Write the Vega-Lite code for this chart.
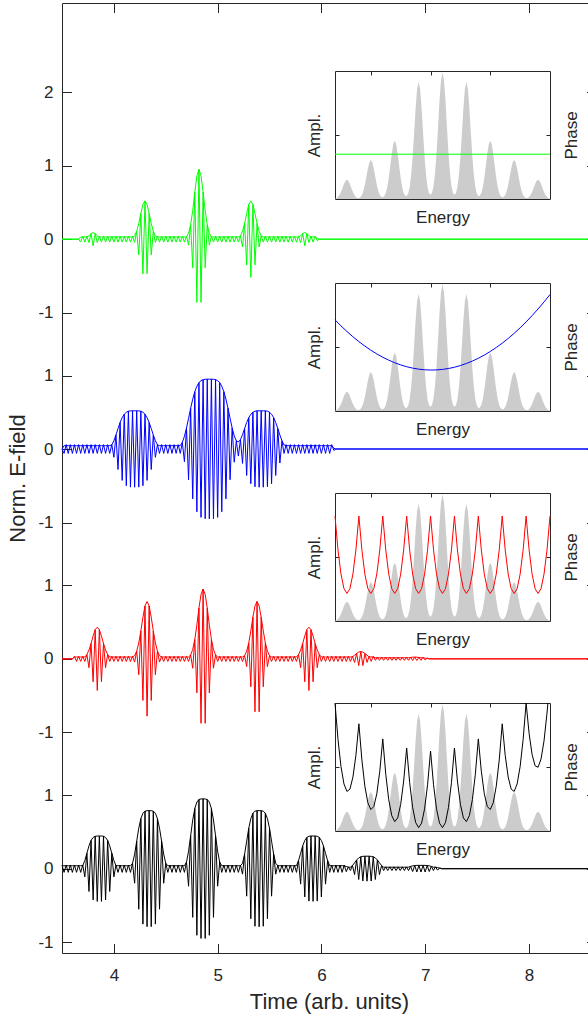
{
"$schema": "https://vega.github.io/schema/vega-lite/v6.json",
"width": 534, "height": 950,
"autosize": {"type": "none"},
"padding": {"left": 62, "top": 3, "right": -8, "bottom": 63},
"background": "white",
"config": {
 "view": {"stroke": null},
 "axis": {"grid": false, "domainColor": "#262626", "tickColor": "#262626", "labelColor": "#262626", "titleColor": "#262626", "labelFont": "Liberation Sans", "titleFont": "Liberation Sans", "titleFontWeight": "normal", "domainWidth": 1, "tickWidth": 1, "labelFontSize": 17, "titleFontSize": 22}
},
"datasets": {
"green": [{"t":3.5,"f":0,"e":0},{"t":3.66,"f":0,"e":0},{"t":3.68,"f":-0.04,"e":0.03},{"t":3.7,"f":0.04,"e":0.03},{"t":3.72,"f":-0.04,"e":0.03},{"t":3.74,"f":0.04,"e":0.03},{"t":3.76,"f":-0.047,"e":0.047},{"t":3.78,"f":0.076,"e":0.076},{"t":3.8,"f":-0.09,"e":0.09},{"t":3.82,"f":0.076,"e":0.076},{"t":3.84,"f":-0.047,"e":0.047},{"t":3.86,"f":0.04,"e":0.03},{"t":3.88,"f":-0.04,"e":0.03},{"t":3.9,"f":0.04,"e":0.03},{"t":3.92,"f":-0.04,"e":0.03},{"t":3.94,"f":0.04,"e":0.03},{"t":3.96,"f":-0.04,"e":0.03},{"t":3.98,"f":0.04,"e":0.03},{"t":4.0,"f":-0.04,"e":0.03},{"t":4.02,"f":0.04,"e":0.03},{"t":4.04,"f":-0.04,"e":0.03},{"t":4.06,"f":0.04,"e":0.03},{"t":4.08,"f":-0.04,"e":0.03},{"t":4.1,"f":0.04,"e":0.03},{"t":4.12,"f":-0.04,"e":0.03},{"t":4.14,"f":0.04,"e":0.03},{"t":4.16,"f":-0.04,"e":0.03},{"t":4.18,"f":0.04,"e":0.03},{"t":4.2,"f":-0.044,"e":0.044},{"t":4.22,"f":0.107,"e":0.107},{"t":4.24,"f":-0.214,"e":0.214},{"t":4.26,"f":0.35,"e":0.35},{"t":4.28,"f":-0.471,"e":0.471},{"t":4.3,"f":0.52,"e":0.52},{"t":4.32,"f":-0.471,"e":0.471},{"t":4.34,"f":0.35,"e":0.35},{"t":4.36,"f":-0.214,"e":0.214},{"t":4.38,"f":0.107,"e":0.107},{"t":4.4,"f":-0.044,"e":0.044},{"t":4.42,"f":0.04,"e":0.03},{"t":4.44,"f":-0.04,"e":0.03},{"t":4.46,"f":0.04,"e":0.03},{"t":4.48,"f":-0.04,"e":0.03},{"t":4.5,"f":0.04,"e":0.03},{"t":4.52,"f":-0.04,"e":0.03},{"t":4.54,"f":0.04,"e":0.03},{"t":4.56,"f":-0.04,"e":0.03},{"t":4.58,"f":0.04,"e":0.03},{"t":4.6,"f":-0.04,"e":0.03},{"t":4.62,"f":0.04,"e":0.03},{"t":4.64,"f":-0.04,"e":0.03},{"t":4.66,"f":0.04,"e":0.03},{"t":4.68,"f":-0.04,"e":0.03},{"t":4.7,"f":0.04,"e":0.03},{"t":4.72,"f":-0.081,"e":0.081},{"t":4.74,"f":0.196,"e":0.196},{"t":4.76,"f":-0.39,"e":0.39},{"t":4.78,"f":0.64,"e":0.64},{"t":4.8,"f":-0.861,"e":0.861},{"t":4.82,"f":0.95,"e":0.95},{"t":4.84,"f":-0.861,"e":0.861},{"t":4.86,"f":0.64,"e":0.64},{"t":4.88,"f":-0.39,"e":0.39},{"t":4.9,"f":0.196,"e":0.196},{"t":4.92,"f":-0.081,"e":0.081},{"t":4.94,"f":0.04,"e":0.03},{"t":4.96,"f":-0.04,"e":0.03},{"t":4.98,"f":0.04,"e":0.03},{"t":5.0,"f":-0.04,"e":0.03},{"t":5.02,"f":0.04,"e":0.03},{"t":5.04,"f":-0.04,"e":0.03},{"t":5.06,"f":0.04,"e":0.03},{"t":5.08,"f":-0.04,"e":0.03},{"t":5.1,"f":0.04,"e":0.03},{"t":5.12,"f":-0.04,"e":0.03},{"t":5.14,"f":0.04,"e":0.03},{"t":5.16,"f":-0.04,"e":0.03},{"t":5.18,"f":0.04,"e":0.03},{"t":5.2,"f":-0.04,"e":0.03},{"t":5.22,"f":0.044,"e":0.044},{"t":5.24,"f":-0.107,"e":0.107},{"t":5.26,"f":0.214,"e":0.214},{"t":5.28,"f":-0.35,"e":0.35},{"t":5.3,"f":0.471,"e":0.471},{"t":5.32,"f":-0.52,"e":0.52},{"t":5.34,"f":0.471,"e":0.471},{"t":5.36,"f":-0.35,"e":0.35},{"t":5.38,"f":0.214,"e":0.214},{"t":5.4,"f":-0.107,"e":0.107},{"t":5.42,"f":0.044,"e":0.044},{"t":5.44,"f":-0.04,"e":0.03},{"t":5.46,"f":0.04,"e":0.03},{"t":5.48,"f":-0.04,"e":0.03},{"t":5.5,"f":0.04,"e":0.03},{"t":5.52,"f":-0.04,"e":0.03},{"t":5.54,"f":0.04,"e":0.03},{"t":5.56,"f":-0.04,"e":0.03},{"t":5.58,"f":0.04,"e":0.03},{"t":5.6,"f":-0.04,"e":0.03},{"t":5.62,"f":0.04,"e":0.03},{"t":5.64,"f":-0.04,"e":0.03},{"t":5.66,"f":0.04,"e":0.03},{"t":5.68,"f":-0.04,"e":0.03},{"t":5.7,"f":0.04,"e":0.03},{"t":5.72,"f":-0.04,"e":0.03},{"t":5.74,"f":0.04,"e":0.03},{"t":5.76,"f":-0.04,"e":0.03},{"t":5.78,"f":0.04,"e":0.03},{"t":5.8,"f":-0.047,"e":0.047},{"t":5.82,"f":0.076,"e":0.076},{"t":5.84,"f":-0.09,"e":0.09},{"t":5.86,"f":0.076,"e":0.076},{"t":5.88,"f":-0.047,"e":0.047},{"t":5.9,"f":0.04,"e":0.03},{"t":5.92,"f":-0.04,"e":0.03},{"t":5.94,"f":0.04,"e":0.03},{"t":5.96,"f":-0.02,"e":0.01},{"t":5.98,"f":0,"e":0},{"t":8.647,"f":0,"e":0}],
"blue": [{"t":3.5,"f":0,"e":0},{"t":3.52,"f":-0.06,"e":0.045},{"t":3.54,"f":0.06,"e":0.045},{"t":3.56,"f":-0.06,"e":0.045},{"t":3.58,"f":0.06,"e":0.045},{"t":3.6,"f":-0.06,"e":0.045},{"t":3.62,"f":0.06,"e":0.045},{"t":3.64,"f":-0.06,"e":0.045},{"t":3.66,"f":0.06,"e":0.045},{"t":3.68,"f":-0.06,"e":0.045},{"t":3.7,"f":0.06,"e":0.045},{"t":3.72,"f":-0.06,"e":0.045},{"t":3.74,"f":0.06,"e":0.045},{"t":3.76,"f":-0.06,"e":0.045},{"t":3.78,"f":0.06,"e":0.045},{"t":3.8,"f":-0.06,"e":0.045},{"t":3.82,"f":0.06,"e":0.045},{"t":3.84,"f":-0.06,"e":0.045},{"t":3.86,"f":0.06,"e":0.045},{"t":3.88,"f":-0.06,"e":0.045},{"t":3.9,"f":0.06,"e":0.045},{"t":3.92,"f":-0.06,"e":0.045},{"t":3.94,"f":0.06,"e":0.045},{"t":3.96,"f":-0.06,"e":0.045},{"t":3.98,"f":0.06,"e":0.056},{"t":4.0,"f":-0.113,"e":0.113},{"t":4.02,"f":0.191,"e":0.191},{"t":4.04,"f":-0.279,"e":0.279},{"t":4.06,"f":0.36,"e":0.36},{"t":4.08,"f":-0.427,"e":0.427},{"t":4.1,"f":0.473,"e":0.473},{"t":4.12,"f":-0.5,"e":0.5},{"t":4.14,"f":0.514,"e":0.514},{"t":4.16,"f":-0.519,"e":0.519},{"t":4.18,"f":0.52,"e":0.52},{"t":4.2,"f":-0.52,"e":0.52},{"t":4.22,"f":0.52,"e":0.52},{"t":4.24,"f":-0.519,"e":0.519},{"t":4.26,"f":0.514,"e":0.514},{"t":4.28,"f":-0.5,"e":0.5},{"t":4.3,"f":0.473,"e":0.473},{"t":4.32,"f":-0.427,"e":0.427},{"t":4.34,"f":0.36,"e":0.36},{"t":4.36,"f":-0.279,"e":0.279},{"t":4.38,"f":0.191,"e":0.191},{"t":4.4,"f":-0.113,"e":0.113},{"t":4.42,"f":0.06,"e":0.056},{"t":4.44,"f":-0.06,"e":0.045},{"t":4.46,"f":0.06,"e":0.045},{"t":4.48,"f":-0.06,"e":0.045},{"t":4.5,"f":0.06,"e":0.045},{"t":4.52,"f":-0.06,"e":0.045},{"t":4.54,"f":0.06,"e":0.045},{"t":4.56,"f":-0.06,"e":0.045},{"t":4.58,"f":0.06,"e":0.045},{"t":4.6,"f":-0.06,"e":0.045},{"t":4.62,"f":0.06,"e":0.045},{"t":4.64,"f":-0.06,"e":0.045},{"t":4.66,"f":0.09,"e":0.09},{"t":4.68,"f":-0.173,"e":0.173},{"t":4.7,"f":0.285,"e":0.285},{"t":4.72,"f":-0.418,"e":0.418},{"t":4.74,"f":0.554,"e":0.554},{"t":4.76,"f":-0.678,"e":0.678},{"t":4.78,"f":0.78,"e":0.78},{"t":4.8,"f":-0.854,"e":0.854},{"t":4.82,"f":0.903,"e":0.903},{"t":4.84,"f":-0.93,"e":0.93},{"t":4.86,"f":0.943,"e":0.943},{"t":4.88,"f":-0.949,"e":0.949},{"t":4.9,"f":0.95,"e":0.95},{"t":4.92,"f":-0.95,"e":0.95},{"t":4.94,"f":0.95,"e":0.95},{"t":4.96,"f":-0.949,"e":0.949},{"t":4.98,"f":0.943,"e":0.943},{"t":5.0,"f":-0.93,"e":0.93},{"t":5.02,"f":0.903,"e":0.903},{"t":5.04,"f":-0.854,"e":0.854},{"t":5.06,"f":0.78,"e":0.78},{"t":5.08,"f":-0.678,"e":0.678},{"t":5.1,"f":0.554,"e":0.554},{"t":5.12,"f":-0.418,"e":0.418},{"t":5.14,"f":0.287,"e":0.287},{"t":5.16,"f":-0.18,"e":0.18},{"t":5.18,"f":0.112,"e":0.112},{"t":5.2,"f":-0.096,"e":0.096},{"t":5.22,"f":0.128,"e":0.128},{"t":5.24,"f":-0.196,"e":0.196},{"t":5.26,"f":0.279,"e":0.279},{"t":5.28,"f":-0.36,"e":0.36},{"t":5.3,"f":0.427,"e":0.427},{"t":5.32,"f":-0.473,"e":0.473},{"t":5.34,"f":0.5,"e":0.5},{"t":5.36,"f":-0.514,"e":0.514},{"t":5.38,"f":0.519,"e":0.519},{"t":5.4,"f":-0.52,"e":0.52},{"t":5.42,"f":0.52,"e":0.52},{"t":5.44,"f":-0.52,"e":0.52},{"t":5.46,"f":0.519,"e":0.519},{"t":5.48,"f":-0.514,"e":0.514},{"t":5.5,"f":0.5,"e":0.5},{"t":5.52,"f":-0.473,"e":0.473},{"t":5.54,"f":0.427,"e":0.427},{"t":5.56,"f":-0.36,"e":0.36},{"t":5.58,"f":0.279,"e":0.279},{"t":5.6,"f":-0.191,"e":0.191},{"t":5.62,"f":0.113,"e":0.113},{"t":5.64,"f":-0.06,"e":0.056},{"t":5.66,"f":0.06,"e":0.045},{"t":5.68,"f":-0.06,"e":0.045},{"t":5.7,"f":0.06,"e":0.045},{"t":5.72,"f":-0.06,"e":0.045},{"t":5.74,"f":0.06,"e":0.045},{"t":5.76,"f":-0.06,"e":0.045},{"t":5.78,"f":0.06,"e":0.045},{"t":5.8,"f":-0.06,"e":0.045},{"t":5.82,"f":0.06,"e":0.045},{"t":5.84,"f":-0.06,"e":0.045},{"t":5.86,"f":0.06,"e":0.045},{"t":5.88,"f":-0.06,"e":0.045},{"t":5.9,"f":0.06,"e":0.045},{"t":5.92,"f":-0.06,"e":0.045},{"t":5.94,"f":0.06,"e":0.045},{"t":5.96,"f":-0.06,"e":0.045},{"t":5.98,"f":0.06,"e":0.045},{"t":6.0,"f":-0.06,"e":0.045},{"t":6.02,"f":0.06,"e":0.045},{"t":6.04,"f":-0.06,"e":0.045},{"t":6.06,"f":0.06,"e":0.045},{"t":6.08,"f":-0.06,"e":0.045},{"t":6.1,"f":0.06,"e":0.045},{"t":6.12,"f":-0.02,"e":0.01},{"t":6.14,"f":0,"e":0},{"t":8.647,"f":0,"e":0}],
"red": [{"t":3.5,"f":0,"e":0},{"t":3.6,"f":0,"e":0},{"t":3.62,"f":0.035,"e":0.025},{"t":3.64,"f":-0.035,"e":0.025},{"t":3.66,"f":0.035,"e":0.025},{"t":3.68,"f":-0.035,"e":0.025},{"t":3.7,"f":0.035,"e":0.025},{"t":3.72,"f":-0.035,"e":0.025},{"t":3.74,"f":0.058,"e":0.058},{"t":3.76,"f":-0.12,"e":0.12},{"t":3.78,"f":0.209,"e":0.209},{"t":3.8,"f":-0.312,"e":0.312},{"t":3.82,"f":0.397,"e":0.397},{"t":3.84,"f":-0.43,"e":0.43},{"t":3.86,"f":0.397,"e":0.397},{"t":3.88,"f":-0.312,"e":0.312},{"t":3.9,"f":0.209,"e":0.209},{"t":3.92,"f":-0.12,"e":0.12},{"t":3.94,"f":0.058,"e":0.058},{"t":3.96,"f":-0.035,"e":0.025},{"t":3.98,"f":0.035,"e":0.025},{"t":4.0,"f":-0.035,"e":0.025},{"t":4.02,"f":0.035,"e":0.025},{"t":4.04,"f":-0.035,"e":0.025},{"t":4.06,"f":0.035,"e":0.025},{"t":4.08,"f":-0.035,"e":0.025},{"t":4.1,"f":0.035,"e":0.025},{"t":4.12,"f":-0.035,"e":0.025},{"t":4.14,"f":0.035,"e":0.025},{"t":4.16,"f":-0.035,"e":0.025},{"t":4.18,"f":0.035,"e":0.025},{"t":4.2,"f":-0.044,"e":0.044},{"t":4.22,"f":0.105,"e":0.105},{"t":4.24,"f":-0.217,"e":0.217},{"t":4.26,"f":0.38,"e":0.38},{"t":4.28,"f":-0.566,"e":0.566},{"t":4.3,"f":0.72,"e":0.72},{"t":4.32,"f":-0.78,"e":0.78},{"t":4.34,"f":0.72,"e":0.72},{"t":4.36,"f":-0.566,"e":0.566},{"t":4.38,"f":0.38,"e":0.38},{"t":4.4,"f":-0.217,"e":0.217},{"t":4.42,"f":0.105,"e":0.105},{"t":4.44,"f":-0.044,"e":0.044},{"t":4.46,"f":0.035,"e":0.025},{"t":4.48,"f":-0.035,"e":0.025},{"t":4.5,"f":0.035,"e":0.025},{"t":4.52,"f":-0.035,"e":0.025},{"t":4.54,"f":0.035,"e":0.025},{"t":4.56,"f":-0.035,"e":0.025},{"t":4.58,"f":0.035,"e":0.025},{"t":4.6,"f":-0.035,"e":0.025},{"t":4.62,"f":0.035,"e":0.025},{"t":4.64,"f":-0.035,"e":0.025},{"t":4.66,"f":0.035,"e":0.025},{"t":4.68,"f":-0.035,"e":0.025},{"t":4.7,"f":0.035,"e":0.025},{"t":4.72,"f":-0.035,"e":0.025},{"t":4.74,"f":0.053,"e":0.053},{"t":4.76,"f":-0.128,"e":0.128},{"t":4.78,"f":0.264,"e":0.264},{"t":4.8,"f":-0.463,"e":0.463},{"t":4.82,"f":0.69,"e":0.69},{"t":4.84,"f":-0.877,"e":0.877},{"t":4.86,"f":0.95,"e":0.95},{"t":4.88,"f":-0.877,"e":0.877},{"t":4.9,"f":0.69,"e":0.69},{"t":4.92,"f":-0.463,"e":0.463},{"t":4.94,"f":0.264,"e":0.264},{"t":4.96,"f":-0.128,"e":0.128},{"t":4.98,"f":0.053,"e":0.053},{"t":5.0,"f":-0.035,"e":0.025},{"t":5.02,"f":0.035,"e":0.025},{"t":5.04,"f":-0.035,"e":0.025},{"t":5.06,"f":0.035,"e":0.025},{"t":5.08,"f":-0.035,"e":0.025},{"t":5.1,"f":0.035,"e":0.025},{"t":5.12,"f":-0.035,"e":0.025},{"t":5.14,"f":0.035,"e":0.025},{"t":5.16,"f":-0.035,"e":0.025},{"t":5.18,"f":0.035,"e":0.025},{"t":5.2,"f":-0.035,"e":0.025},{"t":5.22,"f":0.035,"e":0.025},{"t":5.24,"f":-0.035,"e":0.025},{"t":5.26,"f":0.044,"e":0.044},{"t":5.28,"f":-0.105,"e":0.105},{"t":5.3,"f":0.217,"e":0.217},{"t":5.32,"f":-0.38,"e":0.38},{"t":5.34,"f":0.566,"e":0.566},{"t":5.36,"f":-0.72,"e":0.72},{"t":5.38,"f":0.78,"e":0.78},{"t":5.4,"f":-0.72,"e":0.72},{"t":5.42,"f":0.566,"e":0.566},{"t":5.44,"f":-0.38,"e":0.38},{"t":5.46,"f":0.217,"e":0.217},{"t":5.48,"f":-0.105,"e":0.105},{"t":5.5,"f":0.044,"e":0.044},{"t":5.52,"f":-0.035,"e":0.025},{"t":5.54,"f":0.035,"e":0.025},{"t":5.56,"f":-0.035,"e":0.025},{"t":5.58,"f":0.035,"e":0.025},{"t":5.6,"f":-0.035,"e":0.025},{"t":5.62,"f":0.035,"e":0.025},{"t":5.64,"f":-0.035,"e":0.025},{"t":5.66,"f":0.035,"e":0.025},{"t":5.68,"f":-0.035,"e":0.025},{"t":5.7,"f":0.035,"e":0.025},{"t":5.72,"f":-0.035,"e":0.025},{"t":5.74,"f":0.035,"e":0.025},{"t":5.76,"f":-0.035,"e":0.025},{"t":5.78,"f":0.058,"e":0.058},{"t":5.8,"f":-0.12,"e":0.12},{"t":5.82,"f":0.209,"e":0.209},{"t":5.84,"f":-0.312,"e":0.312},{"t":5.86,"f":0.397,"e":0.397},{"t":5.88,"f":-0.43,"e":0.43},{"t":5.9,"f":0.397,"e":0.397},{"t":5.92,"f":-0.312,"e":0.312},{"t":5.94,"f":0.209,"e":0.209},{"t":5.96,"f":-0.12,"e":0.12},{"t":5.98,"f":0.058,"e":0.058},{"t":6.0,"f":-0.035,"e":0.025},{"t":6.02,"f":0.035,"e":0.025},{"t":6.04,"f":-0.035,"e":0.025},{"t":6.06,"f":0.035,"e":0.025},{"t":6.08,"f":-0.035,"e":0.025},{"t":6.1,"f":0.035,"e":0.025},{"t":6.12,"f":-0.035,"e":0.025},{"t":6.14,"f":0.035,"e":0.025},{"t":6.16,"f":-0.035,"e":0.025},{"t":6.18,"f":0.035,"e":0.025},{"t":6.2,"f":-0.035,"e":0.025},{"t":6.22,"f":0.035,"e":0.025},{"t":6.24,"f":-0.035,"e":0.025},{"t":6.26,"f":0.035,"e":0.025},{"t":6.28,"f":-0.035,"e":0.025},{"t":6.3,"f":0.035,"e":0.028},{"t":6.32,"f":-0.049,"e":0.049},{"t":6.34,"f":0.073,"e":0.073},{"t":6.36,"f":-0.092,"e":0.092},{"t":6.38,"f":0.1,"e":0.1},{"t":6.4,"f":-0.092,"e":0.092},{"t":6.42,"f":0.073,"e":0.073},{"t":6.44,"f":-0.049,"e":0.049},{"t":6.46,"f":0.035,"e":0.028},{"t":6.48,"f":-0.035,"e":0.025},{"t":6.5,"f":0.035,"e":0.025},{"t":6.52,"f":-0.02,"e":0.015},{"t":6.54,"f":0.02,"e":0.015},{"t":6.56,"f":-0.02,"e":0.015},{"t":6.58,"f":0.02,"e":0.015},{"t":6.6,"f":-0.02,"e":0.015},{"t":6.62,"f":0.02,"e":0.015},{"t":6.64,"f":-0.02,"e":0.015},{"t":6.66,"f":0.02,"e":0.015},{"t":6.68,"f":-0.02,"e":0.015},{"t":6.7,"f":0.02,"e":0.015},{"t":6.72,"f":-0.02,"e":0.015},{"t":6.74,"f":0.02,"e":0.015},{"t":6.76,"f":-0.02,"e":0.015},{"t":6.78,"f":0.02,"e":0.015},{"t":6.8,"f":-0.02,"e":0.015},{"t":6.82,"f":0.02,"e":0.015},{"t":6.84,"f":-0.02,"e":0.015},{"t":6.86,"f":0.02,"e":0.018},{"t":6.88,"f":-0.023,"e":0.023},{"t":6.9,"f":0.025,"e":0.025},{"t":6.92,"f":-0.023,"e":0.023},{"t":6.94,"f":0.02,"e":0.018},{"t":6.96,"f":-0.02,"e":0.015},{"t":6.98,"f":0.02,"e":0.015},{"t":7.0,"f":-0.015,"e":0.01},{"t":7.02,"f":0.01,"e":0.005},{"t":7.04,"f":0,"e":0},{"t":8.647,"f":0,"e":0}],
"black": [{"t":3.5,"f":0.05,"e":0.04},{"t":3.52,"f":-0.05,"e":0.04},{"t":3.54,"f":0.05,"e":0.04},{"t":3.56,"f":-0.05,"e":0.04},{"t":3.58,"f":0.05,"e":0.04},{"t":3.6,"f":-0.05,"e":0.04},{"t":3.62,"f":0.05,"e":0.04},{"t":3.64,"f":-0.05,"e":0.04},{"t":3.66,"f":0.05,"e":0.04},{"t":3.68,"f":-0.05,"e":0.04},{"t":3.7,"f":0.05,"e":0.042},{"t":3.72,"f":-0.111,"e":0.111},{"t":3.74,"f":0.21,"e":0.21},{"t":3.76,"f":-0.31,"e":0.31},{"t":3.78,"f":0.384,"e":0.384},{"t":3.8,"f":-0.425,"e":0.425},{"t":3.82,"f":0.441,"e":0.441},{"t":3.84,"f":-0.445,"e":0.445},{"t":3.86,"f":0.445,"e":0.445},{"t":3.88,"f":-0.445,"e":0.445},{"t":3.9,"f":0.441,"e":0.441},{"t":3.92,"f":-0.425,"e":0.425},{"t":3.94,"f":0.384,"e":0.384},{"t":3.96,"f":-0.31,"e":0.31},{"t":3.98,"f":0.21,"e":0.21},{"t":4.0,"f":-0.111,"e":0.111},{"t":4.02,"f":0.05,"e":0.042},{"t":4.04,"f":-0.05,"e":0.04},{"t":4.06,"f":0.05,"e":0.04},{"t":4.08,"f":-0.05,"e":0.04},{"t":4.1,"f":0.05,"e":0.04},{"t":4.12,"f":-0.05,"e":0.04},{"t":4.14,"f":0.05,"e":0.04},{"t":4.16,"f":-0.05,"e":0.04},{"t":4.18,"f":0.074,"e":0.074},{"t":4.2,"f":-0.198,"e":0.198},{"t":4.22,"f":0.374,"e":0.374},{"t":4.24,"f":-0.551,"e":0.551},{"t":4.26,"f":0.681,"e":0.681},{"t":4.28,"f":-0.754,"e":0.754},{"t":4.3,"f":0.783,"e":0.783},{"t":4.32,"f":-0.789,"e":0.789},{"t":4.34,"f":0.79,"e":0.79},{"t":4.36,"f":-0.789,"e":0.789},{"t":4.38,"f":0.783,"e":0.783},{"t":4.4,"f":-0.754,"e":0.754},{"t":4.42,"f":0.681,"e":0.681},{"t":4.44,"f":-0.551,"e":0.551},{"t":4.46,"f":0.374,"e":0.374},{"t":4.48,"f":-0.198,"e":0.198},{"t":4.5,"f":0.074,"e":0.074},{"t":4.52,"f":-0.05,"e":0.04},{"t":4.54,"f":0.05,"e":0.04},{"t":4.56,"f":-0.05,"e":0.04},{"t":4.58,"f":0.05,"e":0.04},{"t":4.6,"f":-0.05,"e":0.04},{"t":4.62,"f":0.05,"e":0.04},{"t":4.64,"f":-0.05,"e":0.04},{"t":4.66,"f":0.05,"e":0.04},{"t":4.68,"f":-0.05,"e":0.04},{"t":4.7,"f":0.089,"e":0.089},{"t":4.72,"f":-0.238,"e":0.238},{"t":4.74,"f":0.449,"e":0.449},{"t":4.76,"f":-0.662,"e":0.662},{"t":4.78,"f":0.819,"e":0.819},{"t":4.8,"f":-0.906,"e":0.906},{"t":4.82,"f":0.941,"e":0.941},{"t":4.84,"f":-0.949,"e":0.949},{"t":4.86,"f":0.95,"e":0.95},{"t":4.88,"f":-0.949,"e":0.949},{"t":4.9,"f":0.941,"e":0.941},{"t":4.92,"f":-0.906,"e":0.906},{"t":4.94,"f":0.819,"e":0.819},{"t":4.96,"f":-0.662,"e":0.662},{"t":4.98,"f":0.449,"e":0.449},{"t":5.0,"f":-0.238,"e":0.238},{"t":5.02,"f":0.089,"e":0.089},{"t":5.04,"f":-0.05,"e":0.04},{"t":5.06,"f":0.05,"e":0.04},{"t":5.08,"f":-0.05,"e":0.04},{"t":5.1,"f":0.05,"e":0.04},{"t":5.12,"f":-0.05,"e":0.04},{"t":5.14,"f":0.05,"e":0.04},{"t":5.16,"f":-0.05,"e":0.04},{"t":5.18,"f":0.05,"e":0.04},{"t":5.2,"f":-0.05,"e":0.04},{"t":5.22,"f":0.05,"e":0.04},{"t":5.24,"f":-0.074,"e":0.074},{"t":5.26,"f":0.198,"e":0.198},{"t":5.28,"f":-0.374,"e":0.374},{"t":5.3,"f":0.551,"e":0.551},{"t":5.32,"f":-0.681,"e":0.681},{"t":5.34,"f":0.754,"e":0.754},{"t":5.36,"f":-0.783,"e":0.783},{"t":5.38,"f":0.789,"e":0.789},{"t":5.4,"f":-0.79,"e":0.79},{"t":5.42,"f":0.789,"e":0.789},{"t":5.44,"f":-0.783,"e":0.783},{"t":5.46,"f":0.754,"e":0.754},{"t":5.48,"f":-0.681,"e":0.681},{"t":5.5,"f":0.551,"e":0.551},{"t":5.52,"f":-0.374,"e":0.374},{"t":5.54,"f":0.198,"e":0.198},{"t":5.56,"f":-0.074,"e":0.074},{"t":5.58,"f":0.05,"e":0.04},{"t":5.6,"f":-0.05,"e":0.04},{"t":5.62,"f":0.05,"e":0.04},{"t":5.64,"f":-0.05,"e":0.04},{"t":5.66,"f":0.05,"e":0.04},{"t":5.68,"f":-0.05,"e":0.04},{"t":5.7,"f":0.05,"e":0.04},{"t":5.72,"f":-0.05,"e":0.04},{"t":5.74,"f":0.05,"e":0.04},{"t":5.76,"f":-0.05,"e":0.042},{"t":5.78,"f":0.111,"e":0.111},{"t":5.8,"f":-0.21,"e":0.21},{"t":5.82,"f":0.31,"e":0.31},{"t":5.84,"f":-0.384,"e":0.384},{"t":5.86,"f":0.425,"e":0.425},{"t":5.88,"f":-0.441,"e":0.441},{"t":5.9,"f":0.445,"e":0.445},{"t":5.92,"f":-0.445,"e":0.445},{"t":5.94,"f":0.445,"e":0.445},{"t":5.96,"f":-0.441,"e":0.441},{"t":5.98,"f":0.425,"e":0.425},{"t":6.0,"f":-0.384,"e":0.384},{"t":6.02,"f":0.31,"e":0.31},{"t":6.04,"f":-0.21,"e":0.21},{"t":6.06,"f":0.111,"e":0.111},{"t":6.08,"f":-0.05,"e":0.042},{"t":6.1,"f":0.05,"e":0.04},{"t":6.12,"f":-0.05,"e":0.04},{"t":6.14,"f":0.05,"e":0.04},{"t":6.16,"f":-0.05,"e":0.04},{"t":6.18,"f":0.05,"e":0.04},{"t":6.2,"f":-0.05,"e":0.04},{"t":6.22,"f":0.05,"e":0.04},{"t":6.24,"f":-0.04,"e":0.03},{"t":6.26,"f":0.025,"e":0.02},{"t":6.28,"f":-0.025,"e":0.02},{"t":6.3,"f":0.043,"e":0.043},{"t":6.32,"f":-0.08,"e":0.08},{"t":6.34,"f":0.118,"e":0.118},{"t":6.36,"f":-0.147,"e":0.147},{"t":6.38,"f":0.162,"e":0.162},{"t":6.4,"f":-0.168,"e":0.168},{"t":6.42,"f":0.17,"e":0.17},{"t":6.44,"f":-0.17,"e":0.17},{"t":6.46,"f":0.17,"e":0.17},{"t":6.48,"f":-0.168,"e":0.168},{"t":6.5,"f":0.162,"e":0.162},{"t":6.52,"f":-0.147,"e":0.147},{"t":6.54,"f":0.118,"e":0.118},{"t":6.56,"f":-0.08,"e":0.08},{"t":6.58,"f":0.043,"e":0.043},{"t":6.6,"f":-0.025,"e":0.02},{"t":6.62,"f":0.025,"e":0.02},{"t":6.64,"f":-0.025,"e":0.02},{"t":6.66,"f":0.025,"e":0.02},{"t":6.68,"f":-0.025,"e":0.02},{"t":6.7,"f":0.025,"e":0.02},{"t":6.72,"f":-0.025,"e":0.02},{"t":6.74,"f":0.025,"e":0.02},{"t":6.76,"f":-0.025,"e":0.02},{"t":6.78,"f":0.025,"e":0.02},{"t":6.8,"f":-0.025,"e":0.02},{"t":6.82,"f":0.025,"e":0.02},{"t":6.84,"f":-0.025,"e":0.021},{"t":6.86,"f":0.031,"e":0.031},{"t":6.88,"f":-0.039,"e":0.039},{"t":6.9,"f":0.043,"e":0.043},{"t":6.92,"f":-0.045,"e":0.045},{"t":6.94,"f":0.045,"e":0.045},{"t":6.96,"f":-0.045,"e":0.045},{"t":6.98,"f":0.045,"e":0.045},{"t":7.0,"f":-0.045,"e":0.045},{"t":7.02,"f":0.043,"e":0.043},{"t":7.04,"f":-0.039,"e":0.039},{"t":7.06,"f":0.031,"e":0.031},{"t":7.08,"f":-0.025,"e":0.021},{"t":7.1,"f":0.025,"e":0.02},{"t":7.12,"f":-0.02,"e":0.015},{"t":7.14,"f":0.01,"e":0.008},{"t":7.16,"f":0,"e":0},{"t":8.647,"f":0,"e":0}],
"spec": [{"en":-0.6,"am":0.005},{"en":-0.575,"am":0.013},{"en":-0.55,"am":0.03},{"en":-0.525,"am":0.061},{"en":-0.5,"am":0.108},{"en":-0.475,"am":0.169},{"en":-0.45,"am":0.233},{"en":-0.425,"am":0.281},{"en":-0.4,"am":0.3},{"en":-0.375,"am":0.281},{"en":-0.35,"am":0.233},{"en":-0.325,"am":0.169},{"en":-0.3,"am":0.108},{"en":-0.275,"am":0.061},{"en":-0.25,"am":0.03},{"en":-0.225,"am":0.017},{"en":-0.2,"am":0.015},{"en":-0.175,"am":0.029},{"en":-0.15,"am":0.061},{"en":-0.125,"am":0.124},{"en":-0.1,"am":0.22},{"en":-0.075,"am":0.343},{"en":-0.05,"am":0.473},{"en":-0.025,"am":0.572},{"en":0,"am":0.61},{"en":0.025,"am":0.572},{"en":0.05,"am":0.473},{"en":0.075,"am":0.343},{"en":0.1,"am":0.22},{"en":0.125,"am":0.124},{"en":0.15,"am":0.061},{"en":0.175,"am":0.032},{"en":0.2,"am":0.026},{"en":0.225,"am":0.044},{"en":0.25,"am":0.092},{"en":0.275,"am":0.185},{"en":0.3,"am":0.328},{"en":0.325,"am":0.512},{"en":0.35,"am":0.705},{"en":0.375,"am":0.854},{"en":0.4,"am":0.91},{"en":0.425,"am":0.854},{"en":0.45,"am":0.705},{"en":0.475,"am":0.512},{"en":0.5,"am":0.328},{"en":0.525,"am":0.185},{"en":0.55,"am":0.092},{"en":0.575,"am":0.05},{"en":0.6,"am":0.046},{"en":0.625,"am":0.085},{"en":0.65,"am":0.184},{"en":0.675,"am":0.371},{"en":0.7,"am":0.659},{"en":0.725,"am":1.03},{"en":0.75,"am":1.418},{"en":0.775,"am":1.717},{"en":0.8,"am":1.83},{"en":0.825,"am":1.717},{"en":0.85,"am":1.418},{"en":0.875,"am":1.03},{"en":0.9,"am":0.659},{"en":0.925,"am":0.371},{"en":0.95,"am":0.184},{"en":0.975,"am":0.091},{"en":1,"am":0.065},{"en":1.025,"am":0.097},{"en":1.05,"am":0.199},{"en":1.075,"am":0.402},{"en":1.1,"am":0.713},{"en":1.125,"am":1.115},{"en":1.15,"am":1.535},{"en":1.175,"am":1.857},{"en":1.2,"am":1.98},{"en":1.225,"am":1.857},{"en":1.25,"am":1.535},{"en":1.275,"am":1.115},{"en":1.3,"am":0.713},{"en":1.325,"am":0.402},{"en":1.35,"am":0.199},{"en":1.375,"am":0.097},{"en":1.4,"am":0.065},{"en":1.425,"am":0.091},{"en":1.45,"am":0.184},{"en":1.475,"am":0.371},{"en":1.5,"am":0.659},{"en":1.525,"am":1.03},{"en":1.55,"am":1.418},{"en":1.575,"am":1.717},{"en":1.6,"am":1.83},{"en":1.625,"am":1.717},{"en":1.65,"am":1.418},{"en":1.675,"am":1.03},{"en":1.7,"am":0.659},{"en":1.725,"am":0.371},{"en":1.75,"am":0.184},{"en":1.775,"am":0.085},{"en":1.8,"am":0.046},{"en":1.825,"am":0.05},{"en":1.85,"am":0.092},{"en":1.875,"am":0.185},{"en":1.9,"am":0.328},{"en":1.925,"am":0.512},{"en":1.95,"am":0.705},{"en":1.975,"am":0.854},{"en":2,"am":0.91},{"en":2.025,"am":0.854},{"en":2.05,"am":0.705},{"en":2.075,"am":0.512},{"en":2.1,"am":0.328},{"en":2.125,"am":0.185},{"en":2.15,"am":0.092},{"en":2.175,"am":0.044},{"en":2.2,"am":0.026},{"en":2.225,"am":0.032},{"en":2.25,"am":0.061},{"en":2.275,"am":0.124},{"en":2.3,"am":0.22},{"en":2.325,"am":0.343},{"en":2.35,"am":0.473},{"en":2.375,"am":0.572},{"en":2.4,"am":0.61},{"en":2.425,"am":0.572},{"en":2.45,"am":0.473},{"en":2.475,"am":0.343},{"en":2.5,"am":0.22},{"en":2.525,"am":0.124},{"en":2.55,"am":0.061},{"en":2.575,"am":0.029},{"en":2.6,"am":0.015},{"en":2.625,"am":0.017},{"en":2.65,"am":0.03},{"en":2.675,"am":0.061},{"en":2.7,"am":0.108},{"en":2.725,"am":0.169},{"en":2.75,"am":0.233},{"en":2.775,"am":0.281},{"en":2.8,"am":0.3},{"en":2.825,"am":0.281},{"en":2.85,"am":0.233},{"en":2.875,"am":0.169},{"en":2.9,"am":0.108},{"en":2.925,"am":0.061},{"en":2.95,"am":0.03},{"en":2.975,"am":0.013},{"en":3,"am":0.005}],
"phg": [{"en":-0.6,"p":0.7},{"en":3,"p":0.7}],
"phb": [{"en":-0.6,"p":1.424},{"en":-0.5,"p":1.33},{"en":-0.4,"p":1.242},{"en":-0.3,"p":1.16},{"en":-0.2,"p":1.084},{"en":-0.1,"p":1.014},{"en":0,"p":0.95},{"en":0.1,"p":0.892},{"en":0.2,"p":0.84},{"en":0.3,"p":0.794},{"en":0.4,"p":0.754},{"en":0.5,"p":0.72},{"en":0.6,"p":0.692},{"en":0.7,"p":0.67},{"en":0.8,"p":0.654},{"en":0.9,"p":0.644},{"en":1,"p":0.64},{"en":1.1,"p":0.642},{"en":1.2,"p":0.65},{"en":1.3,"p":0.664},{"en":1.4,"p":0.684},{"en":1.5,"p":0.71},{"en":1.6,"p":0.742},{"en":1.7,"p":0.78},{"en":1.8,"p":0.824},{"en":1.9,"p":0.874},{"en":2,"p":0.93},{"en":2.1,"p":0.992},{"en":2.2,"p":1.06},{"en":2.3,"p":1.134},{"en":2.4,"p":1.214},{"en":2.5,"p":1.3},{"en":2.6,"p":1.392},{"en":2.7,"p":1.49},{"en":2.8,"p":1.594},{"en":2.9,"p":1.704},{"en":3,"p":1.82}],
"phr": [{"en":-0.6,"p":1.64},{"en":-0.55,"p":1.111},{"en":-0.5,"p":0.733},{"en":-0.45,"p":0.506},{"en":-0.4,"p":0.43},{"en":-0.35,"p":0.506},{"en":-0.3,"p":0.733},{"en":-0.25,"p":1.111},{"en":-0.2,"p":1.64},{"en":-0.15,"p":1.111},{"en":-0.1,"p":0.733},{"en":-0.05,"p":0.506},{"en":0,"p":0.43},{"en":0.05,"p":0.506},{"en":0.1,"p":0.733},{"en":0.15,"p":1.111},{"en":0.2,"p":1.64},{"en":0.25,"p":1.111},{"en":0.3,"p":0.733},{"en":0.35,"p":0.506},{"en":0.4,"p":0.43},{"en":0.45,"p":0.506},{"en":0.5,"p":0.733},{"en":0.55,"p":1.111},{"en":0.6,"p":1.64},{"en":0.65,"p":1.111},{"en":0.7,"p":0.733},{"en":0.75,"p":0.506},{"en":0.8,"p":0.43},{"en":0.85,"p":0.506},{"en":0.9,"p":0.733},{"en":0.95,"p":1.111},{"en":1,"p":1.64},{"en":1.05,"p":1.111},{"en":1.1,"p":0.733},{"en":1.15,"p":0.506},{"en":1.2,"p":0.43},{"en":1.25,"p":0.506},{"en":1.3,"p":0.733},{"en":1.35,"p":1.111},{"en":1.4,"p":1.64},{"en":1.45,"p":1.111},{"en":1.5,"p":0.733},{"en":1.55,"p":0.506},{"en":1.6,"p":0.43},{"en":1.65,"p":0.506},{"en":1.7,"p":0.733},{"en":1.75,"p":1.111},{"en":1.8,"p":1.64},{"en":1.85,"p":1.111},{"en":1.9,"p":0.733},{"en":1.95,"p":0.506},{"en":2,"p":0.43},{"en":2.05,"p":0.506},{"en":2.1,"p":0.733},{"en":2.15,"p":1.111},{"en":2.2,"p":1.64},{"en":2.25,"p":1.111},{"en":2.3,"p":0.733},{"en":2.35,"p":0.506},{"en":2.4,"p":0.43},{"en":2.45,"p":0.506},{"en":2.5,"p":0.733},{"en":2.55,"p":1.111},{"en":2.6,"p":1.64},{"en":2.65,"p":1.111},{"en":2.7,"p":0.733},{"en":2.75,"p":0.506},{"en":2.8,"p":0.43},{"en":2.85,"p":0.506},{"en":2.9,"p":0.733},{"en":2.95,"p":1.111},{"en":3,"p":1.64}],
"phk": [{"en":-0.6,"p":2.0},{"en":-0.55,"p":1.43},{"en":-0.5,"p":1.007},{"en":-0.45,"p":0.736},{"en":-0.4,"p":0.618},{"en":-0.35,"p":0.654},{"en":-0.3,"p":0.842},{"en":-0.25,"p":1.182},{"en":-0.2,"p":1.675},{"en":-0.15,"p":1.111},{"en":-0.1,"p":0.7},{"en":-0.05,"p":0.441},{"en":0,"p":0.335},{"en":0.05,"p":0.382},{"en":0.1,"p":0.582},{"en":0.15,"p":0.934},{"en":0.2,"p":1.439},{"en":0.25,"p":0.887},{"en":0.3,"p":0.488},{"en":0.35,"p":0.241},{"en":0.4,"p":0.146},{"en":0.45,"p":0.205},{"en":0.5,"p":0.417},{"en":0.55,"p":0.781},{"en":0.6,"p":1.297},{"en":0.65,"p":0.757},{"en":0.7,"p":0.37},{"en":0.75,"p":0.134},{"en":0.8,"p":0.052},{"en":0.85,"p":0.123},{"en":0.9,"p":0.346},{"en":0.95,"p":0.722},{"en":1,"p":1.25},{"en":1.05,"p":0.722},{"en":1.1,"p":0.346},{"en":1.15,"p":0.123},{"en":1.2,"p":0.052},{"en":1.25,"p":0.134},{"en":1.3,"p":0.37},{"en":1.35,"p":0.757},{"en":1.4,"p":1.297},{"en":1.45,"p":0.781},{"en":1.5,"p":0.417},{"en":1.55,"p":0.205},{"en":1.6,"p":0.146},{"en":1.65,"p":0.241},{"en":1.7,"p":0.488},{"en":1.75,"p":0.887},{"en":1.8,"p":1.439},{"en":1.85,"p":0.934},{"en":1.9,"p":0.582},{"en":1.95,"p":0.382},{"en":2,"p":0.335},{"en":2.05,"p":0.441},{"en":2.1,"p":0.7},{"en":2.15,"p":1.111},{"en":2.2,"p":1.675},{"en":2.25,"p":1.182},{"en":2.3,"p":0.842},{"en":2.35,"p":0.654},{"en":2.4,"p":0.618},{"en":2.45,"p":0.736},{"en":2.5,"p":1.007},{"en":2.55,"p":1.43},{"en":2.6,"p":2.0},{"en":2.65,"p":1.524},{"en":2.7,"p":1.196},{"en":2.75,"p":1.019},{"en":2.8,"p":0.996},{"en":2.85,"p":1.125},{"en":2.9,"p":1.408},{"en":2.95,"p":1.843},{"en":2.965,"p":2.0}]
},
"layer": [
 {"data": {"name": "black"}, "transform": [{"fold": ["f", "e"], "as": ["k", "v"]}],
  "mark": {"type": "line", "color": "#000000", "strokeWidth": 1},
  "encoding": {
   "x": {"field": "t", "type": "quantitative", "scale": {"domain": [3.5, 8.647], "nice": false, "zero": false},
         "axis": {"orient": "bottom", "values": [4,5,6,7,8], "tickSize": -9.5, "labelPadding": 24, "title": "Time (arb. units)", "titlePadding": 8}},
   "y": {"field": "v", "type": "quantitative", "scale": {"domain": [-1.147, 11.778], "nice": false, "zero": false},
         "axis": {"orient": "left", "values": [-1,0,1,1.855,2.855,3.855,4.71,5.71,6.71,7.565,8.565,9.565,10.565], "labelExpr": "'' + round(datum.value - (datum.value > 7 ? 8.565 : datum.value > 4.2 ? 5.71 : datum.value > 1.4 ? 2.855 : 0))", "tickSize": -9.5, "labelPadding": 18.5, "title": "Norm. E-field", "titlePadding": 8}},
   "detail": {"field": "k", "type": "nominal"}}},
 {"data": {"name": "red"}, "transform": [{"fold": ["f", "e"], "as": ["k", "v"]}],
  "mark": {"type": "line", "color": "#ff0000", "strokeWidth": 1},
  "encoding": {
   "x": {"field": "t", "type": "quantitative", "scale": {"domain": [3.5, 8.647], "nice": false, "zero": false},
         "axis": {"orient": "top", "values": [4,5,6,7,8], "tickSize": -9.5, "labels": false, "title": null}},
   "y": {"field": "v", "type": "quantitative", "scale": {"domain": [-4.002, 8.923], "nice": false, "zero": false},
         "axis": {"orient": "right", "values": [-3.855,-2.855,-1.855,-1,0,1,1.855,2.855,3.855,4.71,5.71,6.71,7.71], "tickSize": -9.5, "labels": false, "title": null}},
   "detail": {"field": "k", "type": "nominal"}}},
 {"data": {"name": "blue"}, "transform": [{"fold": ["f", "e"], "as": ["k", "v"]}],
  "mark": {"type": "line", "color": "#0000ff", "strokeWidth": 1},
  "encoding": {
   "x": {"field": "t", "type": "quantitative", "scale": {"domain": [3.5, 8.647], "nice": false, "zero": false}, "axis": null},
   "y": {"field": "v", "type": "quantitative", "scale": {"domain": [-6.857, 6.068], "nice": false, "zero": false}, "axis": null},
   "detail": {"field": "k", "type": "nominal"}}},
 {"data": {"name": "green"}, "transform": [{"fold": ["f", "e"], "as": ["k", "v"]}],
  "mark": {"type": "line", "color": "#00ff00", "strokeWidth": 1},
  "encoding": {
   "x": {"field": "t", "type": "quantitative", "scale": {"domain": [3.5, 8.647], "nice": false, "zero": false}, "axis": null},
   "y": {"field": "v", "type": "quantitative", "scale": {"domain": [-9.712, 3.213], "nice": false, "zero": false}, "axis": null},
   "detail": {"field": "k", "type": "nominal"}}},
 {"layer": [
   {"data": {"name": "spec"}, "mark": {"type": "area", "color": "#cccccc"},
    "encoding": {
     "x": {"field": "en", "type": "quantitative", "scale": {"domain": [-0.6, 3], "range": [273, 488], "nice": false, "zero": false}, "axis": {"orient": "bottom", "offset": -754, "values": [0,1,2], "labels": false, "tickSize": -4, "title": "Energy", "titlePadding": 10, "titleFontSize": 17}},
     "y": {"field": "am", "type": "quantitative", "scale": {"domain": [0, 2], "range": [196, 68], "nice": false, "zero": false}, "axis": {"orient": "left", "offset": -273, "values": [1], "labels": false, "tickSize": -4, "title": "Ampl.", "titlePadding": 11, "titleFontSize": 17}},
     "y2": {"datum": 0}}},
   {"data": {"name": "phg"}, "mark": {"type": "line", "color": "#00ff00", "strokeWidth": 1},
    "encoding": {
     "x": {"field": "en", "type": "quantitative", "scale": {"domain": [-0.6, 3], "range": [273, 488], "nice": false, "zero": false}, "axis": {"orient": "top", "offset": -68, "values": [0,1,2], "labels": false, "tickSize": -4, "title": null}},
     "y": {"field": "p", "type": "quantitative", "scale": {"domain": [0, 2], "range": [196, 68], "nice": false, "zero": false}, "axis": {"orient": "right", "offset": -46, "values": [1], "labels": false, "tickSize": -4, "title": "Phase", "titleAngle": 270, "titleBaseline": "top", "titlePadding": 13, "titleFontSize": 17}}}}
  ],
  "resolve": {"scale": {"x": "independent", "y": "independent"}}},
 {"layer": [
   {"data": {"name": "spec"}, "mark": {"type": "area", "color": "#cccccc"},
    "encoding": {
     "x": {"field": "en", "type": "quantitative", "scale": {"domain": [-0.6, 3], "range": [273, 488], "nice": false, "zero": false}, "axis": {"orient": "bottom", "offset": -542, "values": [0,1,2], "labels": false, "tickSize": -4, "title": "Energy", "titlePadding": 10, "titleFontSize": 17}},
     "y": {"field": "am", "type": "quantitative", "scale": {"domain": [0, 2], "range": [408, 280], "nice": false, "zero": false}, "axis": {"orient": "left", "offset": -273, "values": [1], "labels": false, "tickSize": -4, "title": "Ampl.", "titlePadding": 11, "titleFontSize": 17}},
     "y2": {"datum": 0}}},
   {"data": {"name": "phb"}, "mark": {"type": "line", "color": "#0000ff", "strokeWidth": 1},
    "encoding": {
     "x": {"field": "en", "type": "quantitative", "scale": {"domain": [-0.6, 3], "range": [273, 488], "nice": false, "zero": false}, "axis": {"orient": "top", "offset": -280, "values": [0,1,2], "labels": false, "tickSize": -4, "title": null}},
     "y": {"field": "p", "type": "quantitative", "scale": {"domain": [0, 2], "range": [408, 280], "nice": false, "zero": false}, "axis": {"orient": "right", "offset": -46, "values": [1], "labels": false, "tickSize": -4, "title": "Phase", "titleAngle": 270, "titleBaseline": "top", "titlePadding": 13, "titleFontSize": 17}}}}
  ],
  "resolve": {"scale": {"x": "independent", "y": "independent"}}},
 {"layer": [
   {"data": {"name": "spec"}, "mark": {"type": "area", "color": "#cccccc"},
    "encoding": {
     "x": {"field": "en", "type": "quantitative", "scale": {"domain": [-0.6, 3], "range": [273, 488], "nice": false, "zero": false}, "axis": {"orient": "bottom", "offset": -332, "values": [0,1,2], "labels": false, "tickSize": -4, "title": "Energy", "titlePadding": 10, "titleFontSize": 17}},
     "y": {"field": "am", "type": "quantitative", "scale": {"domain": [0, 2], "range": [618, 490], "nice": false, "zero": false}, "axis": {"orient": "left", "offset": -273, "values": [1], "labels": false, "tickSize": -4, "title": "Ampl.", "titlePadding": 11, "titleFontSize": 17}},
     "y2": {"datum": 0}}},
   {"data": {"name": "phr"}, "mark": {"type": "line", "color": "#ff0000", "strokeWidth": 1},
    "encoding": {
     "x": {"field": "en", "type": "quantitative", "scale": {"domain": [-0.6, 3], "range": [273, 488], "nice": false, "zero": false}, "axis": {"orient": "top", "offset": -490, "values": [0,1,2], "labels": false, "tickSize": -4, "title": null}},
     "y": {"field": "p", "type": "quantitative", "scale": {"domain": [0, 2], "range": [618, 490], "nice": false, "zero": false}, "axis": {"orient": "right", "offset": -46, "values": [1], "labels": false, "tickSize": -4, "title": "Phase", "titleAngle": 270, "titleBaseline": "top", "titlePadding": 13, "titleFontSize": 17}}}}
  ],
  "resolve": {"scale": {"x": "independent", "y": "independent"}}},
 {"layer": [
   {"data": {"name": "spec"}, "mark": {"type": "area", "color": "#cccccc"},
    "encoding": {
     "x": {"field": "en", "type": "quantitative", "scale": {"domain": [-0.6, 3], "range": [273, 488], "nice": false, "zero": false}, "axis": {"orient": "bottom", "offset": -122, "values": [0,1,2], "labels": false, "tickSize": -4, "title": "Energy", "titlePadding": 10, "titleFontSize": 17}},
     "y": {"field": "am", "type": "quantitative", "scale": {"domain": [0, 2], "range": [828, 700], "nice": false, "zero": false}, "axis": {"orient": "left", "offset": -273, "values": [1], "labels": false, "tickSize": -4, "title": "Ampl.", "titlePadding": 11, "titleFontSize": 17}},
     "y2": {"datum": 0}}},
   {"data": {"name": "phk"}, "mark": {"type": "line", "color": "#000000", "strokeWidth": 1},
    "encoding": {
     "x": {"field": "en", "type": "quantitative", "scale": {"domain": [-0.6, 3], "range": [273, 488], "nice": false, "zero": false}, "axis": {"orient": "top", "offset": -700, "values": [0,1,2], "labels": false, "tickSize": -4, "title": null}},
     "y": {"field": "p", "type": "quantitative", "scale": {"domain": [0, 2], "range": [828, 700], "nice": false, "zero": false}, "axis": {"orient": "right", "offset": -46, "values": [1], "labels": false, "tickSize": -4, "title": "Phase", "titleAngle": 270, "titleBaseline": "top", "titlePadding": 13, "titleFontSize": 17}}}}
  ],
  "resolve": {"scale": {"x": "independent", "y": "independent"}}}
],
"resolve": {"scale": {"x": "independent", "y": "independent"}}
}
